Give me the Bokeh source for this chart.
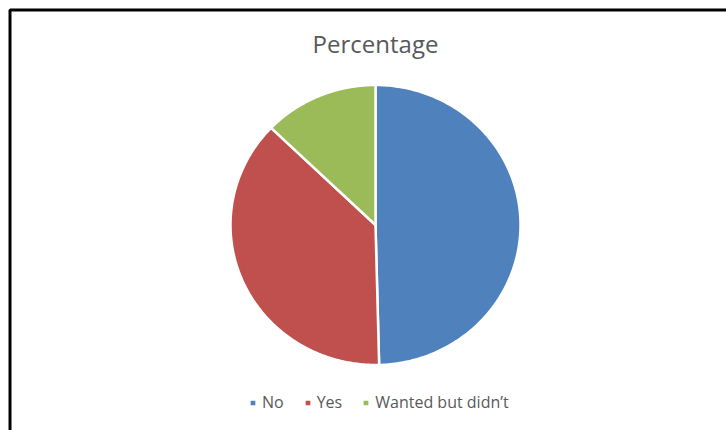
import numpy as np
from bokeh.plotting import figure
from bokeh.models import Range1d, Label, BoxAnnotation, Legend, LegendItem
from bokeh.embed import file_html
from bokeh.resources import INLINE

categories = ["No", "Yes", "Wanted but didn\u2019t"]
values = [49.6, 37.6, 12.8]
colors = ["#4F81BD", "#C0504D", "#9BBB59"]
title_text = "Percentage"

W, H = 726, 430
p = figure(width=W, height=H, output_backend="svg", toolbar_location=None,
           x_range=Range1d(0, W), y_range=Range1d(0, H),
           min_border=0, min_border_left=0, min_border_right=0,
           min_border_top=0, min_border_bottom=0)
p.axis.visible = False
p.grid.visible = False
p.outline_line_color = None
p.background_fill_color = "white"
p.border_fill_color = "white"

# pie geometry (layout)
cx, cy = 375.0, H - 224.5
rx, ry = 145.0, 140.0

vals = np.array(values, dtype=float)
frac = vals / vals.sum()
ends = np.cumsum(frac)
starts = ends - frac

renderers = []
for s, e, c in zip(starts, ends, colors):
    th = np.linspace(s * 2 * np.pi, e * 2 * np.pi, 200)
    xs = np.concatenate([[cx], cx + rx * np.sin(th), [cx]])
    ys = np.concatenate([[cy], cy + ry * np.cos(th), [cy]])
    r = p.patch(xs, ys, fill_color=c, line_color="white", line_width=2.5,
                line_join="round")
    renderers.append(r)

legend = Legend(items=[LegendItem(label=lab, renderers=[r]) for lab, r in zip(categories, renderers)],
                orientation="horizontal", location=(248, 17),
                glyph_width=9, glyph_height=9, label_standoff=5, spacing=19,
                padding=0, margin=0, border_line_color=None,
                background_fill_alpha=0,
                label_text_font="Open Sans", label_text_font_size="16px",
                label_text_color="#595959", label_height=16)
p.add_layout(legend)

p.add_layout(Label(x=cx, y=H - 43, text=title_text, text_align="center",
                   text_baseline="middle", text_font="Open Sans",
                   text_font_size="24px", text_color="#595959"))

# chart frame border
p.add_layout(BoxAnnotation(left=9.5, right=W + 20, top=H - 9.5, bottom=-20,
                           fill_alpha=0, line_color="black", line_alpha=1,
                           line_width=3))

open("out.html", "w").write(file_html(p, INLINE))
